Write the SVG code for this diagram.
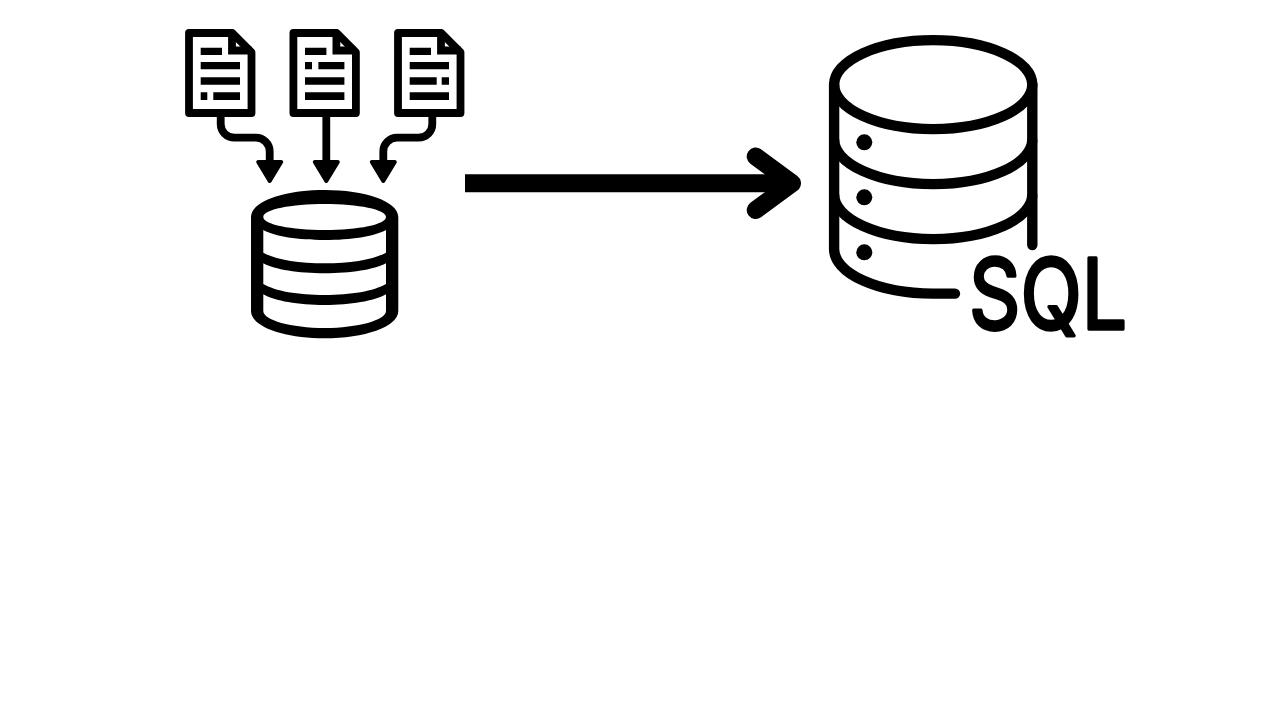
<svg xmlns="http://www.w3.org/2000/svg" width="1280" height="720" viewBox="0 0 1280 720">
  <style>
    .page { fill: #fff; stroke: #000; stroke-width: 7.8; stroke-linejoin: round; }
    .fold { fill: none; stroke: #000; stroke-width: 7.8; }
    .ink { fill: #000; }
    .wire { fill: none; stroke: #000; stroke-width: 7.8; marker-end: url(#head); }
    .big { fill: none; stroke: #000; stroke-width: 10.4; stroke-linecap: round; }
    .band { fill: none; stroke: #000; stroke-width: 10.4; }
    .sql { font-family: "Inter", "Liberation Sans", sans-serif; font-size: 98px; font-weight: 400; fill: #000; stroke: #000; stroke-width: 3.5; stroke-linejoin: round; }
  </style>
  <defs>
    <marker id="head" markerUnits="userSpaceOnUse" viewBox="0 -16 26 32" refX="0" refY="0" markerWidth="26" markerHeight="32" orient="auto">
      <polygon points="2,-11.5 21,0 2,11.5" fill="#000" stroke="#000" stroke-width="4" stroke-linejoin="round"/>
    </marker>
    <g id="sheet">
      <path class="page" d="M189,33 H232.3 L251.5,52.2 V113 H189 Z"/>
      <path class="fold" d="M232,33 V50.5 H251.5"/>
    </g>
  </defs>
  <rect width="1280" height="720" fill="#fff"/>

  <g id="connectors">
    <path class="wire" d="M220.7,116 V124 A13.7,13.7 0 0 0 234.4,137.7 H256 A13.7,13.7 0 0 1 269.7,151.4 V160"/>
    <path class="wire" d="M326.3,116 V160"/>
    <path class="wire" d="M432.3,116 V124 A13.7,13.7 0 0 1 418.6,137.7 H397 A13.7,13.7 0 0 0 383.3,151.4 V160"/>
    <path d="M465,183.3 H790" fill="none" stroke="#000" stroke-width="18"/>
    <path d="M755.7,156.5 L792,183.3 L755.7,210" fill="none" stroke="#000" stroke-width="18" stroke-linecap="round" stroke-linejoin="round"/>
  </g>

  <g id="doc-1">
    <use href="#sheet"/>
    <path class="ink" d="M200.7,47.7 H222 V55 H200.7 Z M200.7,62 H240 V69.3 H200.7 Z M200.7,77.3 H240 V84.7 H200.7 Z M200.7,92.3 H207.3 V100 H200.7 Z M213.3,92.3 H240 V100 H213.3 Z"/>
  </g>
  <g id="doc-2">
    <use href="#sheet" x="104.4"/>
    <path class="ink" d="M305,47.7 H326.4 V55 H305 Z M305,62 H312 V69.3 H305 Z M318.4,62 H344.4 V69.3 H318.4 Z M305,77.3 H344.4 V84.7 H305 Z M305,92.3 H344.4 V100 H305 Z"/>
  </g>
  <g id="doc-3">
    <use href="#sheet" x="209"/>
    <path class="ink" d="M409.7,47.7 H431 V55 H409.7 Z M409.7,62 H449 V69.3 H409.7 Z M409.7,77.3 H436.7 V84.7 H409.7 Z M441.7,77.3 H449 V84.7 H441.7 Z M409.7,92.3 H449 V100 H409.7 Z"/>
  </g>

  <g id="database-small">
    <path fill="#000" fill-rule="evenodd" d="M251,217 C251,201 285,190 324.7,190 C364,190 398.3,201 398.3,217 V311 C398.3,327 364,338.3 324.7,338.3 C285,338.3 251,327 251,311 Z
      M263.3,217 C263.3,209.5 291,204 324.7,204 C358.5,204 386,209.5 386,217 C386,224.5 358.5,230 324.7,230 C291,230 263.3,224.5 263.3,217 Z
      M263.3,230 C275,236.5 298,240 324.7,240 C351,240 374,236.5 386,230 V252.7 C374,259.5 351,263.3 324.7,263.3 C298,263.3 275,259.5 263.3,252.7 Z
      M263.3,263.3 C275,269.5 298,273.3 324.7,273.3 C351,273.3 374,269.5 386,263.3 V284 C374,291 351,295 324.7,295 C298,295 275,291 263.3,284 Z
      M263.3,294.3 C275,301 298,305 324.7,305 C351,305 374,301 386,294.3 V311 C386,320 358,328 324.7,328 C291,328 263.3,320 263.3,311 Z"/>
  </g>

  <g id="database-sql">
    <ellipse class="band" cx="933.2" cy="84.6" rx="99.1" ry="44.5"/>
    <path class="big" d="M1032.3,84.6 V245"/>
    <path class="big" d="M955,293.6 H933.2 A99.1,44.5 0 0 1 834.1,249.1 V84.6"/>
    <path class="band" d="M834.1,139.6 A99.1,44.5 0 0 0 1032.3,139.6"/>
    <path class="band" d="M834.1,194.6 A99.1,44.5 0 0 0 1032.3,194.6"/>
    <circle class="ink" cx="864.3" cy="142.3" r="8"/>
    <circle class="ink" cx="864.3" cy="197.3" r="8"/>
    <circle class="ink" cx="864.3" cy="252.3" r="8"/>
    <text class="sql" x="969" y="329" textLength="158" lengthAdjust="spacingAndGlyphs">SQL</text>
  </g>
</svg>
